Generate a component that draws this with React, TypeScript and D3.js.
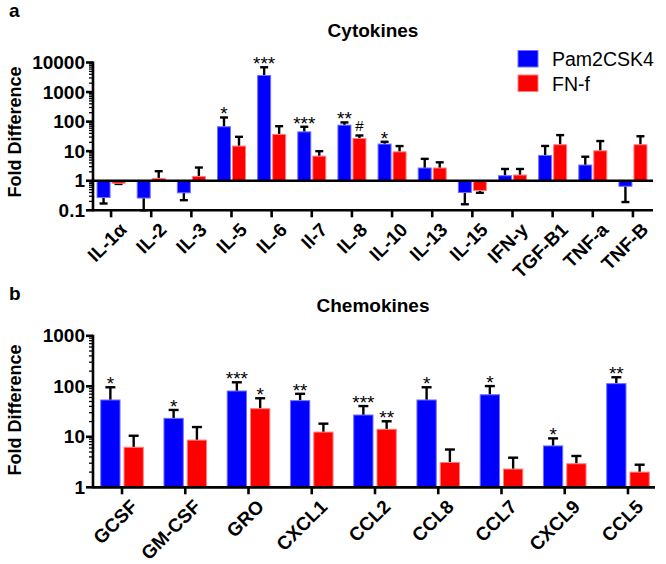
import React from "react";
import * as d3 from "d3";

// ---------- Panel a: Cytokines ----------
const cytoCats = ["IL-1α", "IL-2", "IL-3", "IL-5", "IL-6", "Il-7", "IL-8", "IL-10", "IL-13", "IL-15", "IFN-y", "TGF-B1", "TNF-a", "TNF-B"];
const cytoPam = [0.27, 0.26, 0.39, 67, 3640, 45, 76, 17.4, 2.7, 0.4, 1.48, 7.2, 3.4, 0.65];
const cytoPamErr = [0.17, 0.1, 0.22, 138, 6900, 67, 94, 20.8, 5.5, 0.16, 2.5, 15, 6.5, 0.19];
const cytoFn = [0.82, 1.2, 1.4, 14.9, 37, 6.8, 27, 9.5, 2.7, 0.47, 1.56, 16.5, 10.3, 16.5];
const cytoFnErr = [0.78, 2.1, 2.8, 30.6, 70, 10, 34, 14.9, 4.2, 0.39, 2.5, 35, 22, 32];
const cytoPamSig = ["", "", "", "*", "***", "***", "**", "*", "", "", "", "", "", ""];
const cytoFnSig = ["", "", "", "", "", "", "#", "", "", "", "", "", "", ""];
const cytoTicks = [0.1, 1, 10, 100, 1000, 10000];
const cytoTickLabels = ["0.1", "1", "10", "100", "1000", "10000"];

// ---------- Panel b: Chemokines ----------
const chemoCats = ["GCSF", "GM-CSF", "GRO", "CXCL1", "CCL2", "CCL8", "CCL7", "CXCL9", "CCL5"];
const chemoPam = [53.6, 23.2, 80.7, 52, 27, 53.6, 68, 6.6, 113];
const chemoPamErr = [95.7, 34, 120, 71, 40.6, 95.7, 101, 9.3, 151];
const chemoFn = [6.2, 8.6, 36, 12.4, 14.1, 3.1, 2.3, 2.93, 2.0];
const chemoFnErr = [10.5, 15.6, 58, 18.2, 20.3, 5.6, 3.86, 4.17, 2.8];
const chemoPamSig = ["*", "*", "***", "**", "***", "*", "*", "*", "**"];
const chemoFnSig = ["", "", "*", "", "**", "", "", "", ""];
const chemoTicks = [1, 10, 100, 1000];
const chemoTickLabels = ["1", "10", "100", "1000"];

const seriesNames = ["Pam2CSK4", "FN-f"];
const seriesColors = ["#0000ff", "#ff0000"];
const seriesStroke = ["#7070ff", "#ff8080"];

const FONT = "'Liberation Sans', Arial, Helvetica, sans-serif";

type PanelProps = {
  cats: string[];
  pam: number[];
  pamErr: number[];
  fn: number[];
  fnErr: number[];
  pamSig: string[];
  fnSig: string[];
  ticks: number[];
  tickLabels: string[];
  yDomain: [number, number];
  yRange: [number, number];
  xRange: [number, number];
  axisEnd: number;
  baseline: number;
  barW: number;
  gap: number;
  capW: number;
  title: string;
  titleY: number;
  letter: string;
  letterY: number;
  ylabelY: number;
  labelDy: number;
};

function Panel(p: PanelProps) {
  const y = d3.scaleLog().domain(p.yDomain).range(p.yRange);
  const x = d3.scaleBand<string>().domain(p.cats).range(p.xRange).paddingInner(0).paddingOuter(0);
  const axisX = 93;
  const bottomY = y(p.yDomain[0]);
  const baseY = y(p.baseline);
  const minor: number[] = [];
  const lo = Math.round(Math.log10(p.yDomain[0]));
  const hi = Math.round(Math.log10(p.yDomain[1]));
  for (let k = lo; k < hi; k++) {
    for (let m = 2; m <= 9; m++) minor.push(m * Math.pow(10, k));
  }
  const bars: React.ReactNode[] = [];
  p.cats.forEach((c, i) => {
    const cx = (x(c) as number) + x.bandwidth() / 2;
    const series = [
      { v: p.pam[i], e: p.pamErr[i], sig: p.pamSig[i], x0: cx - p.gap / 2 - p.barW, k: 0 },
      { v: p.fn[i], e: p.fnErr[i], sig: p.fnSig[i], x0: cx + p.gap / 2, k: 1 },
    ];
    series.forEach((s, j) => {
      const yv = y(s.v);
      const ye = y(s.e);
      const top = Math.min(yv, baseY);
      const h = Math.abs(yv - baseY);
      const mid = s.x0 + p.barW / 2;
      bars.push(
        <g key={`${i}-${j}`}>
          <line x1={mid} x2={mid} y1={yv} y2={ye} stroke="#000" strokeWidth={2.4} />
          <line x1={mid - p.capW / 2} x2={mid + p.capW / 2} y1={ye} y2={ye} stroke="#000" strokeWidth={2.4} />
          <rect x={s.x0} y={top} width={p.barW} height={h} fill={seriesColors[s.k]} stroke={seriesStroke[s.k]} strokeWidth={1} />
          {s.sig ? (
            s.sig === "#" ? (
              <text x={mid} y={ye - 4} textAnchor="middle" fontSize={15} fontFamily={FONT} fill="#000">{s.sig}</text>
            ) : (
              <text x={mid} y={ye + 3} textAnchor="middle" fontSize={19} fontFamily={FONT} fill="#000">{s.sig}</text>
            )
          ) : null}
        </g>
      );
    });
  });
  return (
    <g>
      <text x={9} y={p.letterY} fontSize={19} fontWeight="bold" fontFamily={FONT}>{p.letter}</text>
      <text x={373} y={p.titleY} textAnchor="middle" fontSize={19} fontWeight="bold" fontFamily={FONT}>{p.title}</text>
      <text transform={`translate(16,${p.ylabelY}) rotate(-90)`} textAnchor="middle" dominantBaseline="middle" fontSize={18} fontWeight="bold" fontFamily={FONT}>Fold Difference</text>
      {bars}
      {/* y axis */}
      <line x1={axisX} x2={axisX} y1={y(p.yDomain[1]) - 1} y2={bottomY + 1} stroke="#000" strokeWidth={2.6} />
      {minor.map((m, i) => (
        <line key={"mn" + i} x1={axisX - 4} x2={axisX} y1={y(m)} y2={y(m)} stroke="#000" strokeWidth={1.3} />
      ))}
      {p.ticks.map((t, i) => (
        <g key={"t" + i}>
          <line x1={axisX - 7} x2={axisX} y1={y(t)} y2={y(t)} stroke="#000" strokeWidth={2.6} />
          <text x={axisX - 8} y={y(t)} textAnchor="end" dominantBaseline="central" fontSize={19} fontWeight="bold" fontFamily={FONT}>{p.tickLabels[i]}</text>
        </g>
      ))}
      {/* baseline */}
      <line x1={axisX} x2={p.axisEnd} y1={baseY} y2={baseY} stroke="#000" strokeWidth={2.6} />
      {/* bottom axis */}
      <line x1={axisX} x2={p.axisEnd} y1={bottomY} y2={bottomY} stroke="#000" strokeWidth={2.6} />
      {p.cats.map((c, i) => {
        const cx = (x(c) as number) + x.bandwidth() / 2;
        return (
          <g key={"c" + i}>
            <line x1={cx} x2={cx} y1={bottomY} y2={bottomY + 7} stroke="#000" strokeWidth={2.6} />
            <text transform={`translate(${cx + 7},${bottomY + p.labelDy}) rotate(-45)`} textAnchor="end" dominantBaseline="hanging" fontSize={19} fontWeight="bold" fontFamily={FONT}>{c}</text>
          </g>
        );
      })}
    </g>
  );
}

export default function App() {
  return (
    <svg width={666} height={564} style={{ position: "absolute", left: 0, top: 0, background: "#fff" }}>
      <rect x={0} y={0} width={666} height={564} fill="#fff" />
      <Panel
        cats={cytoCats}
        pam={cytoPam}
        pamErr={cytoPamErr}
        fn={cytoFn}
        fnErr={cytoFnErr}
        pamSig={cytoPamSig}
        fnSig={cytoFnSig}
        ticks={cytoTicks}
        tickLabels={cytoTickLabels}
        yDomain={[0.1, 10000]}
        yRange={[210.3, 62.5]}
        xRange={[91, 653]}
        axisEnd={653}
        baseline={1}
        barW={13}
        gap={2}
        capW={8}
        title="Cytokines"
        titleY={37}
        letter="a"
        letterY={17}
        ylabelY={132}
        labelDy={11}
      />
      <Panel
        cats={chemoCats}
        pam={chemoPam}
        pamErr={chemoPamErr}
        fn={chemoFn}
        fnErr={chemoFnErr}
        pamSig={chemoPamSig}
        fnSig={chemoFnSig}
        ticks={chemoTicks}
        tickLabels={chemoTickLabels}
        yDomain={[1, 1000]}
        yRange={[487.3, 335.8]}
        xRange={[90.4, 659.6]}
        axisEnd={655}
        baseline={1}
        barW={19.3}
        gap={4}
        capW={10}
        title="Chemokines"
        titleY={312}
        letter="b"
        letterY={300}
        ylabelY={410}
        labelDy={11}
      />
      {/* legend */}
      {seriesNames.map((s, i) => (
        <g key={"lg" + i}>
          <rect x={518} y={50.5 + i * 24.5} width={20} height={16.5} fill={seriesColors[i]} stroke={seriesStroke[i]} strokeWidth={1} />
          <text x={552} y={59 + i * 24.5} dominantBaseline="central" fontSize={19.5} fontFamily={FONT}>{s}</text>
        </g>
      ))}
    </svg>
  );
}
